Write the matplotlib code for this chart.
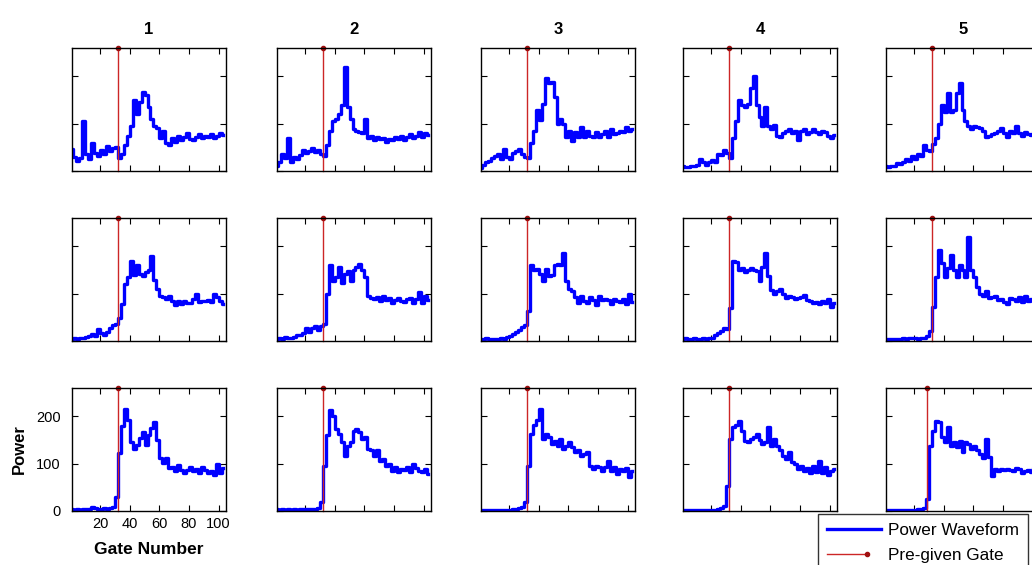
import matplotlib
matplotlib.use("Agg")
import matplotlib.pyplot as plt
from matplotlib.lines import Line2D
from matplotlib.legend_handler import HandlerLine2D

plt.rcParams['font.family'] = ['Liberation Sans', 'DejaVu Sans']

# sampled every second gate (1, 3, ..., 103)
gates = list(range(1, 104, 2))

wave_r1_c1 = [46, 30, 22, 28, 105, 35, 25, 60, 38, 32, 45, 35, 52,
              42, 48, 50, 28, 35, 55, 75, 95, 150, 120, 145, 168, 160,
              135, 110, 95, 90, 70, 85, 60, 55, 70, 62, 75, 65, 72,
              80, 68, 65, 72, 78, 70, 75, 72, 78, 70, 75, 80, 76]
wave_r1_c2 = [10, 18, 35, 28, 70, 18, 30, 25, 33, 45, 38, 42, 48,
              40, 45, 35, 32, 55, 85, 105, 110, 120, 140, 220, 135, 110,
              88, 85, 82, 80, 110, 70, 75, 65, 72, 68, 70, 62, 68,
              65, 72, 68, 75, 66, 72, 78, 70, 75, 82, 72, 80, 76]
wave_r1_c3 = [7, 12, 18, 22, 28, 32, 36, 25, 46, 30, 25, 39, 42,
              46, 35, 30, 28, 60, 85, 128, 107, 142, 196, 185, 189, 157,
              100, 110, 100, 71, 85, 64, 82, 71, 93, 71, 85, 75, 71,
              82, 71, 78, 85, 71, 89, 78, 80, 85, 82, 93, 85, 89]
wave_r1_c4 = [10, 8, 9, 10, 11, 12, 25, 20, 12, 18, 24, 20, 35,
              34, 45, 38, 28, 70, 105, 150, 140, 135, 142, 175, 200, 140,
              115, 95, 135, 95, 88, 98, 75, 72, 80, 84, 88, 80, 85,
              66, 84, 88, 78, 82, 88, 82, 78, 85, 82, 75, 70, 76]
wave_r1_c5 = [10, 9, 11, 10, 16, 14, 20, 25, 21, 32, 25, 36, 32,
              55, 45, 43, 57, 70, 100, 139, 125, 164, 125, 128, 165, 185,
              130, 105, 95, 89, 95, 92, 90, 85, 72, 75, 78, 80, 84,
              90, 80, 72, 85, 80, 95, 80, 75, 82, 78, 76, 80, 78]

wave_r2_c1 = [5, 6, 5, 6, 7, 8, 10, 14, 10, 25, 16, 13, 20,
              27, 34, 36, 48, 78, 120, 135, 170, 140, 160, 142, 138, 145,
              150, 180, 130, 110, 95, 92, 88, 95, 85, 77, 85, 78, 85,
              80, 80, 88, 100, 82, 85, 84, 86, 82, 100, 92, 85, 78]
wave_r2_c2 = [5, 6, 5, 8, 6, 7, 9, 12, 13, 16, 27, 20, 27,
              31, 24, 31, 36, 99, 160, 127, 135, 156, 122, 142, 149, 127,
              150, 156, 163, 150, 135, 95, 90, 88, 92, 85, 95, 86, 90,
              80, 86, 90, 84, 82, 88, 90, 80, 88, 104, 80, 95, 86]
wave_r2_c3 = [5, 4, 6, 4, 5, 5, 4, 6, 5, 8, 11, 15, 18,
              23, 29, 34, 63, 160, 150, 153, 142, 127, 153, 138, 140, 160,
              162, 160, 185, 127, 110, 106, 92, 81, 95, 85, 81, 92, 86,
              77, 95, 86, 88, 86, 78, 88, 85, 82, 88, 78, 99, 82]
wave_r2_c4 = [5, 6, 4, 5, 6, 5, 4, 6, 5, 6, 7, 12, 17,
              22, 27, 25, 70, 170, 168, 150, 155, 145, 150, 155, 150, 148,
              127, 156, 185, 138, 108, 100, 105, 110, 100, 90, 95, 92, 88,
              90, 92, 98, 86, 84, 80, 82, 78, 84, 80, 88, 72, 80]
wave_r2_c5 = [4, 5, 4, 5, 4, 5, 6, 5, 6, 7, 6, 5, 6,
              6, 11, 21, 71, 136, 193, 165, 136, 154, 182, 150, 136, 160,
              150, 136, 220, 150, 136, 114, 100, 95, 105, 90, 92, 96, 86,
              88, 82, 79, 90, 88, 84, 93, 82, 96, 85, 88, 85, 88]

wave_r3_c1 = [4, 3, 4, 3, 4, 4, 5, 9, 6, 5, 5, 6, 5,
              7, 8, 30, 122, 180, 216, 192, 145, 132, 140, 155, 167, 140,
              160, 175, 188, 150, 111, 101, 111, 91, 94, 84, 98, 87, 80,
              87, 94, 84, 88, 80, 94, 86, 80, 84, 76, 100, 80, 90]
wave_r3_c2 = [4, 3, 4, 3, 4, 3, 4, 3, 5, 4, 5, 4, 5,
              4, 7, 18, 96, 160, 214, 200, 174, 163, 145, 117, 138, 145,
              170, 174, 167, 152, 156, 131, 128, 117, 128, 106, 110, 96, 100,
              85, 92, 82, 89, 86, 92, 82, 99, 90, 85, 82, 88, 78]
wave_r3_c3 = [2, 3, 2, 3, 2, 3, 2, 3, 2, 3, 3, 4, 5,
              6, 9, 18, 96, 163, 181, 192, 216, 152, 163, 156, 142, 149,
              138, 152, 131, 138, 145, 135, 124, 128, 117, 121, 125, 96, 89,
              95, 92, 85, 92, 105, 85, 92, 78, 89, 85, 90, 71, 85]
wave_r3_c4 = [2, 3, 2, 3, 2, 2, 3, 2, 3, 2, 3, 3, 4,
              7, 11, 53, 152, 177, 181, 191, 170, 149, 145, 152, 156, 163,
              150, 142, 145, 177, 138, 152, 138, 128, 117, 110, 124, 103, 99,
              89, 96, 85, 90, 80, 96, 82, 106, 80, 92, 76, 85, 88]
wave_r3_c5 = [2, 3, 2, 3, 2, 3, 2, 3, 2, 3, 3, 4, 5,
              7, 25, 138, 170, 191, 188, 156, 145, 177, 138, 145, 135, 149,
              124, 145, 142, 131, 138, 130, 121, 113, 152, 115, 74, 88, 85,
              88, 86, 89, 86, 84, 90, 88, 80, 85, 86, 82, 88, 84]

pre_gate_r1 = [32, 32, 32, 32, 32]
pre_gate_r2 = [32, 32, 32, 32, 32]
pre_gate_r3 = [32, 32, 32, 32, 29]

col_titles = ['1', '2', '3', '4', '5']
ymax = 260

waves = [[wave_r1_c1, wave_r1_c2, wave_r1_c3, wave_r1_c4, wave_r1_c5],
         [wave_r2_c1, wave_r2_c2, wave_r2_c3, wave_r2_c4, wave_r2_c5],
         [wave_r3_c1, wave_r3_c2, wave_r3_c3, wave_r3_c4, wave_r3_c5]]
pre_gates = [pre_gate_r1, pre_gate_r2, pre_gate_r3]

BLUE = '#0000ff'
RED = '#cc2626'
RED_DOT = '#a01010'


class ShortGateHandler(HandlerLine2D):
    # legend entry for the gate: shorter line, marker at its right end
    def create_artists(self, legend, orig_handle, xdescent, ydescent,
                       width, height, fontsize, trans):
        arts = super().create_artists(legend, orig_handle, xdescent, ydescent,
                                      width, height, fontsize, trans)
        ln = arts[0]
        xd = ln.get_xdata()
        y = ln.get_ydata()[0]
        x0 = xd[0]
        x1 = xd[0] + 0.74 * (xd[-1] - xd[0])
        ln.set_data([x0, x1], [y, y])
        ln.set_markevery([1])
        for extra in arts[1:]:
            extra.set_data([x1], [y])
        return arts


W, H = 1032, 565
fig = plt.figure(figsize=(W / 100, H / 100), dpi=100)

col_left = [72, 277, 481, 683, 886]
row_top = [48, 218, 388]
aw, ah = 154, 123

for r in range(3):
    for c in range(5):
        ax = fig.add_axes([col_left[c] / W, 1 - (row_top[r] + ah) / H, aw / W, ah / H])
        ax.plot(gates, waves[r][c], color=BLUE, lw=2.4, drawstyle='steps-mid')
        g = pre_gates[r][c]
        ax.plot([g, g], [0, ymax], color=RED, lw=1.0, marker='o', ms=3,
                markevery=[1], mfc=RED_DOT, mec=RED_DOT, clip_on=False)
        ax.set_xlim(1, 105)
        ax.set_ylim(0, ymax)
        ax.set_xticks([20, 40, 60, 80, 100])
        ax.set_yticks([0, 100, 200])
        ax.tick_params(direction='in', top=True, right=True, length=4, width=0.8,
                       labelsize=10.5)
        ax.tick_params(axis='y', pad=8)
        ax.tick_params(axis='x', pad=4)
        for s in ax.spines.values():
            s.set_linewidth(1.0)
        if r == 0:
            ax.set_title(col_titles[c], fontweight='bold', fontsize=12, pad=10)
        if r == 2 and c == 0:
            ax.set_xlabel('Gate Number', fontweight='bold', fontsize=12.5, labelpad=8)
            ax.set_ylabel('Power', fontweight='bold', fontsize=12, labelpad=7)
        else:
            ax.tick_params(labelbottom=False, labelleft=False)

handles = [Line2D([], [], color=BLUE, lw=2.4),
           Line2D([], [], color=RED, lw=1.0, marker='o', ms=3,
                  mfc=RED_DOT, mec=RED_DOT)]
leg = fig.legend(handles, ['Power Waveform', 'Pre-given Gate'],
                 loc='upper left', bbox_to_anchor=(818 / W, 1 - 514 / H),
                 fontsize=12.3, frameon=True, fancybox=False, borderpad=0.5,
                 labelspacing=0.6, handlelength=3.2, handletextpad=0.4,
                 borderaxespad=0, numpoints=1,
                 handler_map={handles[1]: ShortGateHandler()})
leg.get_frame().set_edgecolor('black')
leg.get_frame().set_linewidth(1.0)

fig.savefig('out.png', dpi=100)
